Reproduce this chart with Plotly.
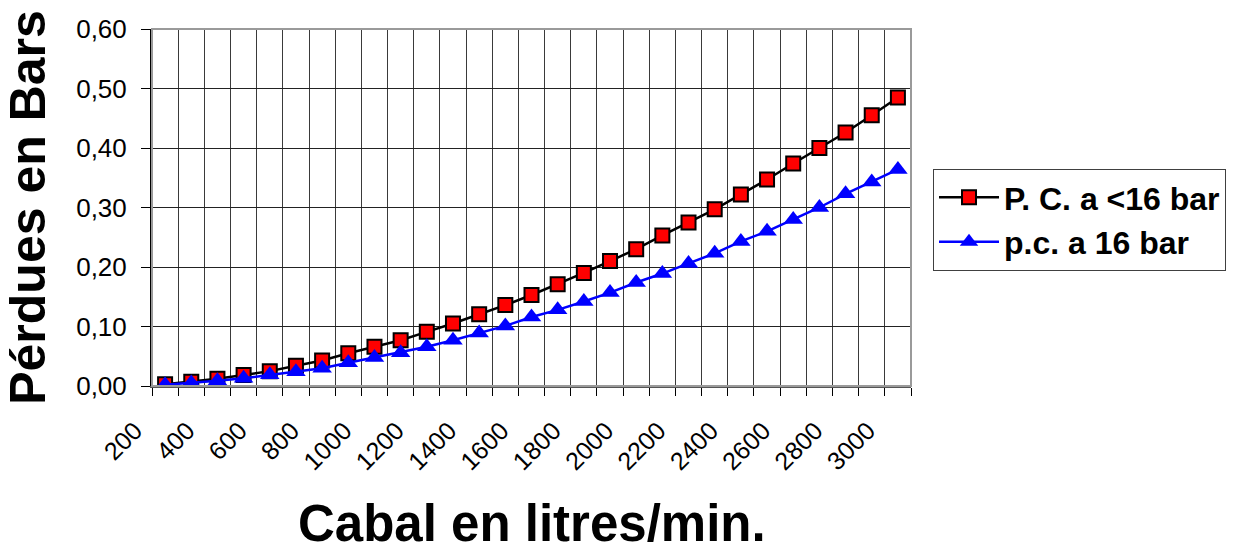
import plotly.graph_objects as go

# Flow rates (litres/min) and pressure losses (bar)
caudal = list(range(200, 3001, 100))
perdues_pc_menor16 = [0.003, 0.007, 0.012, 0.0185, 0.025, 0.034, 0.043, 0.055, 0.066, 0.077,
                      0.091, 0.105, 0.1205, 0.136, 0.153, 0.171, 0.190, 0.210, 0.230, 0.253,
                      0.275, 0.297, 0.322, 0.347, 0.374, 0.400, 0.426, 0.455, 0.485]
perdues_pc_16 = [0.002, 0.005, 0.009, 0.013, 0.019, 0.024, 0.030, 0.039, 0.048, 0.056,
                 0.066, 0.077, 0.089, 0.101, 0.116, 0.128, 0.142, 0.157, 0.174, 0.189,
                 0.206, 0.223, 0.243, 0.260, 0.280, 0.300, 0.323, 0.343, 0.364]
x_labels = list(range(200, 3001, 200))
y_ticks = [0, 0.1, 0.2, 0.3, 0.4, 0.5, 0.6]

FONT = "Liberation Sans, Arial, sans-serif"

fig = go.Figure()
fig.add_trace(go.Scatter(
    x=caudal, y=perdues_pc_menor16, name="P. C. a <16 bar", mode="lines+markers",
    line=dict(color="black", width=2.5),
    marker=dict(symbol="square", size=14, color="#ff0000", line=dict(color="black", width=2)),
))
fig.add_trace(go.Scatter(
    x=caudal, y=perdues_pc_16, name="p.c. a 16 bar", mode="lines+markers",
    line=dict(color="#0000ff", width=2.5),
    marker=dict(symbol="triangle-up", size=17, color="#0000ff"),
))

# category boundaries between flow values
boundaries = [c - 50 for c in caudal] + [caudal[-1] + 50]

fig.update_layout(
    width=1238, height=551,
    margin=dict(l=152, r=327, t=29, b=165),
    paper_bgcolor="white", plot_bgcolor="white",
    separators=",.",
    font=dict(family=FONT, color="black"),
    showlegend=True,
    legend=dict(
        x=1.029, y=0.608, xanchor="left", yanchor="top",
        bgcolor="white", bordercolor="#404040", borderwidth=1,
        font=dict(family=FONT, size=32, color="black", weight="bold"),
        itemwidth=60, tracegroupgap=0,
    ),
    xaxis=dict(
        range=[boundaries[0], boundaries[-1]],
        tickmode="array", tickvals=x_labels, ticktext=[str(v) for v in x_labels],
        tickangle=-45, ticks="", showgrid=False, zeroline=False,
        ticklabelstandoff=18, ticklabelshift=-30,
        tickfont=dict(family=FONT, size=25, color="black"),
        minor=dict(tickmode="array", tickvals=boundaries, showgrid=True,
                   gridcolor="#3a3a3a", gridwidth=1, ticks="outside",
                   ticklen=8, tickcolor="black", tickwidth=1),
        showline=True, linecolor="#555555", linewidth=2,
    ),
    yaxis=dict(
        range=[0, 0.6], tickmode="array", tickvals=y_ticks, tickformat=".2f",
        showgrid=True, gridcolor="#222222", gridwidth=1, zeroline=False,
        ticks="outside", ticklen=9, tickcolor="black",
        ticklabelstandoff=9,
        tickfont=dict(family=FONT, size=26, color="black"),
        showline=True, linecolor="black", linewidth=2,
        title=dict(text="<b>Pérdues en Bars</b>", standoff=17,
                   font=dict(family=FONT, size=50, color="black")),
    ),
    annotations=[dict(text="<b>Cabal en litres/min.</b>", xref="paper", yref="paper",
                      x=0.5, y=-0.384, xanchor="center", yanchor="middle", showarrow=False,
                      font=dict(family=FONT, size=51, color="black"))],
    shapes=[dict(type="rect", xref="x domain", yref="y domain", x0=0, x1=1, y0=0, y1=1,
                 line=dict(color="#9a9a9a", width=2), layer="above")],
)

fig.write_html("out.html")
